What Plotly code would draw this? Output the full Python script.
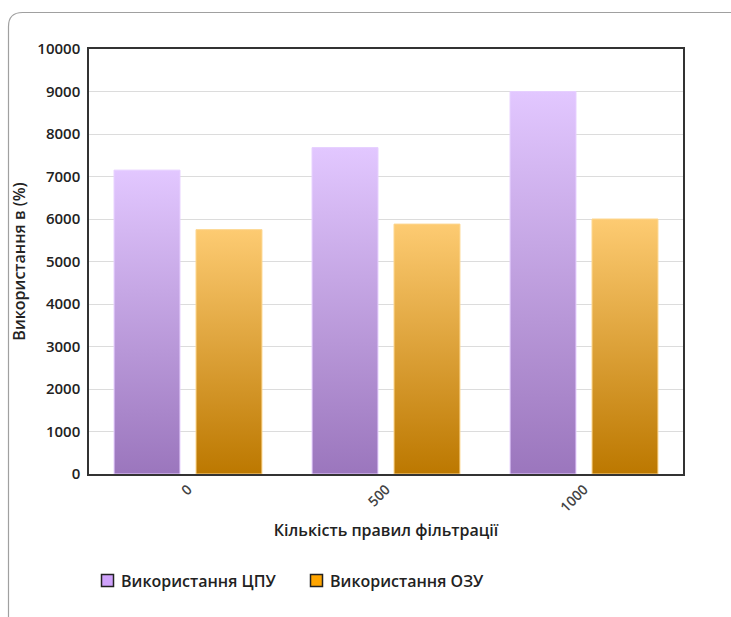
import plotly.graph_objects as go

# Data
categories = ["0", "500", "1000"]
cpu_usage = [7150, 7680, 9000]
ram_usage = [5750, 5880, 6000]
series_names = ["Використання ЦПУ", "Використання ОЗУ"]
y_ticks = list(range(0, 10001, 1000))

# Styling
cpu_grad = ["#9b76bd", "#e2c7ff"]   # bottom -> top
ram_grad = ["#bc7800", "#fdcb72"]
cpu_edge = "#e6cfff"
ram_edge = "#fdd68e"
legend_colors = ["#cfa2fb", "#ffa500"]
bar_width = 0.333
offsets = [-0.207, 0.207]

# Figure geometry (px)
W, H = 731, 617
ml, mr, mt, mb = 89, 48, 49, 143
pw, ph = W - ml - mr, H - mt - mb

fig = go.Figure()


def add_bar(xc, value, grad, edge, group):
    x0, x1 = xc - bar_width / 2, xc + bar_width / 2
    fig.add_trace(go.Scatter(
        x=[x0, x1, x1, x0, x0],
        y=[0, 0, value, value, 0],
        mode="lines",
        fill="toself",
        fillgradient=dict(type="vertical",
                          colorscale=[[0, grad[0]], [1, grad[1]]]),
        line=dict(color=edge, width=1),
        showlegend=False,
        hoverinfo="text",
        text=f"{group}: {value}",
    ))


for i, _ in enumerate(categories):
    add_bar(i + offsets[0], cpu_usage[i], cpu_grad, cpu_edge, series_names[0])
    add_bar(i + offsets[1], ram_usage[i], ram_grad, ram_edge, series_names[1])


# px -> paper coordinates
def px_x(x):
    return (x - ml) / pw


def px_y(y):
    return (H - mb - y) / ph


# Card outline with a rounded corner
r = 14
left, top, right, bottom = 8.5, 12.5, 770, 640
path = (
    f"M {px_x(right)},{px_y(top)} "
    f"L {px_x(left + r)},{px_y(top)} "
    f"Q {px_x(left)},{px_y(top)} {px_x(left)},{px_y(top + r)} "
    f"L {px_x(left)},{px_y(bottom)}"
)
fig.add_shape(type="path", path=path, xref="paper", yref="paper",
              line=dict(color="#a0a0a0", width=1.2), layer="below")

# Legend: square swatches with labels
legend_x = [101.5, 310.5]
sw = 12
legend_y = 574.5
for lx, name, col in zip(legend_x, series_names, legend_colors):
    fig.add_shape(type="rect", xref="paper", yref="paper",
                  x0=px_x(lx), x1=px_x(lx + sw),
                  y0=px_y(legend_y + sw), y1=px_y(legend_y),
                  fillcolor=col, line=dict(color="#222", width=1.5))
    fig.add_annotation(x=px_x(lx + sw + 5), y=px_y(legend_y + sw / 2),
                       xref="paper", yref="paper", xanchor="left",
                       yanchor="middle", showarrow=False, text=name,
                       font=dict(size=16, weight=600, color="#222"))

font_family = "Open Sans, sans-serif"

fig.update_layout(
    width=W, height=H,
    margin=dict(l=ml, r=mr, t=mt, b=mb),
    paper_bgcolor="white",
    plot_bgcolor="white",
    font=dict(family=font_family, color="#222", size=14),
    showlegend=False,
    xaxis=dict(
        range=[-0.5, 2.5],
        tickvals=list(range(len(categories))),
        ticktext=categories,
        tickangle=-45,
        tickfont=dict(size=14, weight=600, color="#444"),
        showgrid=False, zeroline=False,
        showline=True, linecolor="#333", linewidth=1.5, mirror=True,
        ticks="",
        title=dict(text="Кількість правил фільтрації",
                   font=dict(size=16, weight=600, color="#222"),
                   standoff=10),
        fixedrange=True,
    ),
    yaxis=dict(
        range=[0, 10000],
        tickvals=y_ticks,
        ticktext=[str(v) for v in y_ticks],
        tickfont=dict(size=15, weight=600, color="#222"),
        showgrid=True, gridcolor="#dcdcdc", gridwidth=1,
        zeroline=False,
        showline=True, linecolor="#333", linewidth=1.5, mirror=True,
        ticks="", ticklabelstandoff=4,
        title=dict(text="Використання в (%)",
                   font=dict(size=16, weight=600, color="#222"),
                   standoff=8),
        fixedrange=True,
    ),
)

fig.write_html("out.html")
